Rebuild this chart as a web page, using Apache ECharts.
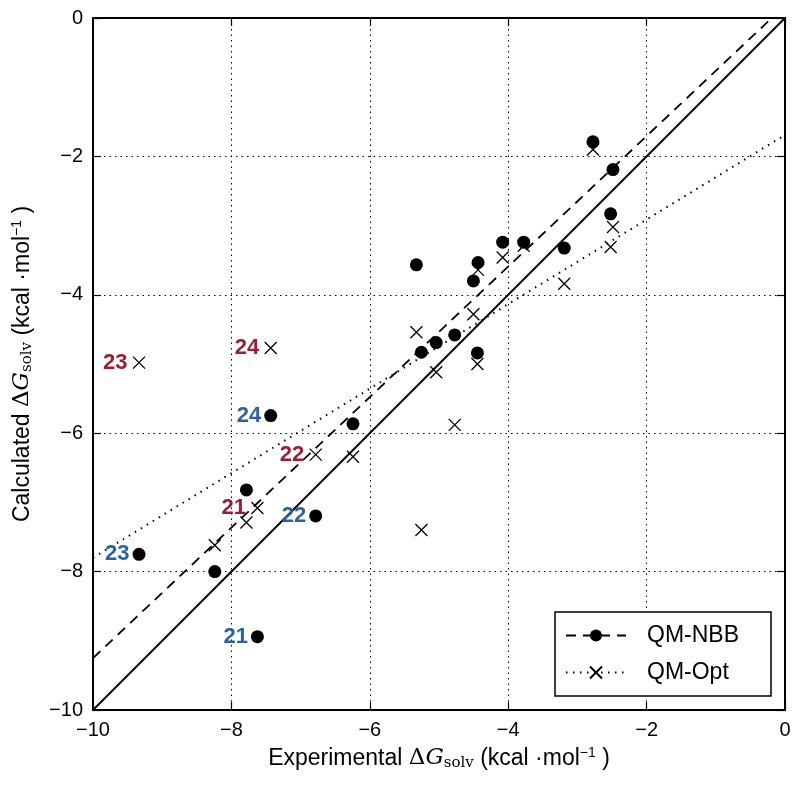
<!DOCTYPE html>
<html>
<head>
<meta charset="utf-8">
<script src="https://cdn.jsdelivr.net/npm/echarts@6/dist/echarts.min.js"></script>
<style>
html,body{margin:0;padding:0;background:#fff;}
#chart{width:800px;height:786px;}
</style>
</head>
<body>
<div id="chart"></div>
<script>
// ---- data ----
var expX   = [-2.775,-2.486,-2.52,-3.19,-3.776,-4.08,-5.327,-4.436,-4.503,-5.254,-5.04,-4.773,-4.445,-7.432,-6.243,-7.783,-6.782,-9.335,-8.24,-7.624];
var nbbY   = [-1.79,-2.19,-2.83,-3.325,-3.24,-3.24,-3.567,-3.533,-3.80,-4.83,-4.69,-4.58,-4.84,-5.745,-5.865,-6.82,-7.195,-7.75,-8.0,-8.94];
var optX   = [-2.775,-2.486,-2.52,-3.19,-3.776,-4.08,-5.327,-4.436,-4.503,-5.254,-5.04,-4.773,-4.445,-7.432,-6.243,-7.783,-6.782,-9.335,-8.24,-7.624];
var optY   = [-1.90,-3.02,-3.31,-3.84,-3.29,-3.46,-4.54,-3.64,-4.28,-7.40,-5.12,-5.88,-5.0,-4.77,-6.34,-7.29,-6.31,-4.98,-7.62,-7.08];
var ptLabels = ['','','','','','','','','','','','','','24','','','22','23','','21'];
var identityLine = [[-10,-10],[0,0]];
var nbbFit = [[-10,-9.25],[0,0.18]];
var optFit = [[-10,-7.8],[0,-1.69]];
var seriesNames = ['QM-NBB','QM-Opt'];

var FONT = '"Liberation Sans", Arial, sans-serif';
var SERIF = '"DejaVu Serif", "Liberation Serif", serif';
var BLUE = '#2b63a0', RED = '#9b1f32';
var crossPath = 'path://M0,0L10,10M10,0L0,10';

function fmt(v){ return String(v).replace('-', '\u2212'); }

function pts(xs, ys, color){
  return xs.map(function(x,i){
    var d = {value:[x, ys[i]]};
    if (ptLabels[i]) {
      d.label = {show:true, formatter: ptLabels[i], position:'left', distance:3,
        color: color, opacity:1, fontFamily: FONT, fontWeight:'bold', fontSize:22};
    }
    return d;
  });
}

var titleRich = {
  n:{fontFamily:FONT, fontSize:23, color:'#000'},
  d:{fontFamily:SERIF, fontSize:23, color:'#000'},
  g:{fontFamily:SERIF, fontStyle:'italic', fontSize:23, color:'#000'},
  s:{fontFamily:SERIF, fontSize:15, color:'#000', verticalAlign:'bottom', padding:[10,0,0,0]},
  p:{fontFamily:FONT, fontSize:14, color:'#000', verticalAlign:'top', padding:[0,0,11,0]}
};

var baseAxis = {
  min:-10, max:0, interval:2,
  axisLine:{show:true, onZero:false, lineStyle:{color:'#000', width:2}},
  axisTick:{show:true, inside:true, length:8, lineStyle:{color:'#000', width:1.2}}
};

var chart = echarts.init(document.getElementById('chart'), null, {renderer:'canvas'});
chart.setOption({
  animation:false,
  backgroundColor:'#fff',
  grid:{left:93, right:15, top:18, bottom:76, containLabel:false},
  xAxis:[
    Object.assign({}, baseAxis, {type:'value', position:'bottom',
      axisLabel:{color:'#000', fontFamily:FONT, fontSize:20, margin:10, formatter:fmt},
      splitLine:{show:true, lineStyle:{color:'#000', type:[1.5,4], width:1}},
      name:'{n|Experimental }{d|Δ}{g|G}{s|solv}{n| (kcal ·mol}{p|−1}{n| )}',
      nameLocation:'middle', nameGap:36,
      nameTextStyle:{rich:titleRich}
    }),
    Object.assign({}, baseAxis, {type:'value', position:'top',
      axisLabel:{show:false}, splitLine:{show:false}})
  ],
  yAxis:[
    Object.assign({}, baseAxis, {type:'value', position:'left',
      axisLabel:{color:'#000', fontFamily:FONT, fontSize:20, margin:10, formatter:fmt},
      splitLine:{show:true, lineStyle:{color:'#000', type:[1.5,4], width:1}},
      name:'{n|Calculated }{d|Δ}{g|G}{s|solv}{n| (kcal ·mol}{p|−1}{n| )}',
      nameLocation:'middle', nameGap:58, nameRotate:90,
      nameTextStyle:{rich:titleRich}
    }),
    Object.assign({}, baseAxis, {type:'value', position:'right',
      axisLabel:{show:false}, splitLine:{show:false}})
  ],
  legend:{
    data: seriesNames,
    orient:'vertical', left:555, top:612,
    backgroundColor:'#fff', borderColor:'#000', borderWidth:1.5, borderRadius:0,
    padding:[12,32,12,10], itemGap:14, itemWidth:60, itemHeight:15,
    textStyle:{color:'#000', fontFamily:FONT, fontSize:23, padding:[0,0,0,16]}
  },
  series:[
    {type:'line', name:'identity', data:identityLine, symbol:'none', silent:true,
     lineStyle:{color:'#000', width:2}, z:2},
    {type:'line', name:'QM-NBB', data:nbbFit, symbol:'circle', symbolSize:14, showSymbol:false, clip:true,
     itemStyle:{color:'#000', opacity:1}, lineStyle:{color:'#000', width:1.8, type:[10,7]}, z:2},
    {type:'line', name:'QM-Opt', data:optFit, symbol:crossPath, symbolSize:12, showSymbol:false, clip:true,
     itemStyle:{color:'none', borderColor:'#000', borderWidth:1.3, opacity:1},
     lineStyle:{color:'#000', width:2, type:[1.5,5.5]}, z:2},
    {type:'scatter', name:'QM-Opt pts', data:pts(optX, optY, RED), symbol:crossPath, symbolSize:12,
     itemStyle:{color:'none', borderColor:'#000', borderWidth:1.3, opacity:1}, emphasis:{disabled:true}, z:3},
    {type:'scatter', name:'QM-NBB pts', data:pts(expX, nbbY, BLUE), symbol:'circle', symbolSize:13,
     itemStyle:{color:'#000', opacity:1}, emphasis:{disabled:true}, z:4}
  ]
});
</script>
</body>
</html>
